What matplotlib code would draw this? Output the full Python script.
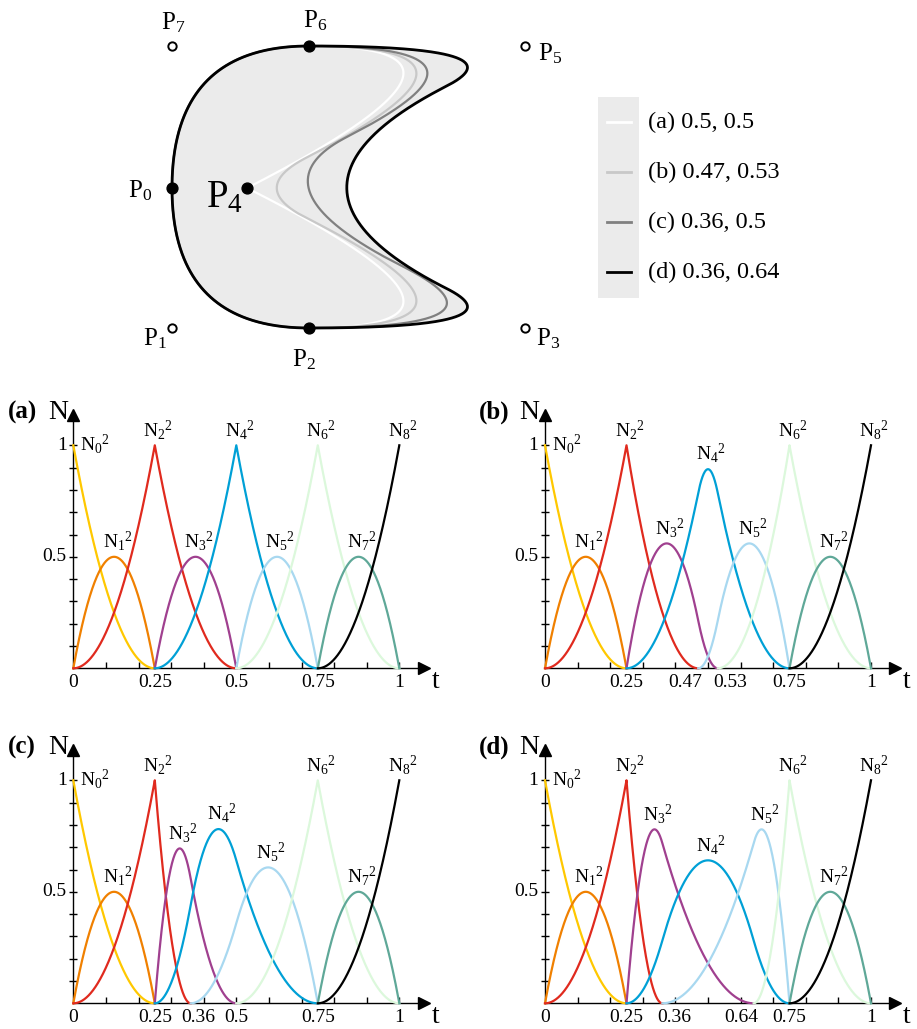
import numpy as np
import matplotlib
matplotlib.use('Agg')
import matplotlib.pyplot as plt
from matplotlib.patches import Rectangle

plt.rcParams['font.family'] = ['Liberation Serif', 'DejaVu Serif']
plt.rcParams['mathtext.fontset'] = 'custom'
plt.rcParams['mathtext.rm'] = 'Liberation Serif'
plt.rcParams['mathtext.it'] = 'Liberation Serif:italic'
plt.rcParams['mathtext.bf'] = 'Liberation Serif:bold'

# ---- data ----
DEGREE = 2
panel_names = ['(a)', '(b)', '(c)', '(d)']
inner_knots = [(0.5, 0.5), (0.47, 0.53), (0.36, 0.5), (0.36, 0.64)]
knots_front = [0, 0, 0, 0.25, 0.25]
knots_back = [0.75, 0.75, 1, 1, 1]

# control polygon of the closed curve (P8 == P0), in drawing units
ctrl_x = [172, 172, 309, 525, 247, 525, 309, 172, 172]
ctrl_y = [188, 328, 328, 328, 188, 46, 46, 46, 188]
ctrl_names = ['P0', 'P1', 'P2', 'P3', 'P4', 'P5', 'P6', 'P7']

legend_labels = ['(a) 0.5, 0.5', '(b) 0.47, 0.53', '(c) 0.36, 0.5', '(d) 0.36, 0.64']
curve_colors = ['#ffffff', '#c8c8c8', '#808080', '#000000']
basis_colors = ['#ffc800', '#f08000', '#e02a1e', '#a0408f', '#00a0d6',
                '#a8d8f0', '#dcf8dc', '#5fa898', '#000000']

# ---- layout ----
W, H = 917, 1029
SX, SY = 326.0, 223.0
panel_origin = [(73.3, 668.3), (545.0, 668.3), (73.3, 1003.3), (545.0, 1003.3)]
tick_nudge = {1: {0.47: -0.04, 0.53: 0.037},
              2: {0.36: 0.022},
              3: {0.36: 0.037, 0.64: -0.038}}
# label offsets (dx, dy, ha) in drawing units, baseline anchored
label_pos = {'P0': (-20, 9, 'right'), 'P1': (-5, 17, 'right'),
             'P2': (-17, 38, 'left'), 'P3': (11, 17, 'left'),
             'P4': (-4, 19, 'right'), 'P5': (13, 14, 'left'),
             'P6': (-6, -19, 'left'), 'P7': (-11, -17, 'left')}


def basis(knots, i, p, t):
    if p == 0:
        lo, hi = knots[i], knots[i + 1]
        res = ((t >= lo) & (t < hi)).astype(float)
        if lo < hi and hi == knots[-1]:
            res[t == hi] = 1.0
        return res
    out = np.zeros_like(t)
    d1 = knots[i + p] - knots[i]
    if d1 > 0:
        out += (t - knots[i]) / d1 * basis(knots, i, p - 1, t)
    d2 = knots[i + p + 1] - knots[i + 1]
    if d2 > 0:
        out += (knots[i + p + 1] - t) / d2 * basis(knots, i + 1, p - 1, t)
    return out


def sample(lo, hi, knots, n=400):
    t = np.linspace(lo, hi, n)
    extra = [k for k in knots if lo <= k <= hi]
    return np.unique(np.concatenate([t, extra]))


def knot_vector(k):
    return knots_front + list(k) + knots_back


fig = plt.figure(figsize=(W / 100, H / 100), dpi=100)

# ---- top: the curves ----
top_h = 372
axt = fig.add_axes([0, 1 - top_h / H, 1, top_h / H])
axt.set_xlim(0, W)
axt.set_ylim(top_h, 0)
axt.axis('off')

px = np.array(ctrl_x, float)
py = np.array(ctrl_y, float)
curves = []
for k in inner_knots:
    kv = knot_vector(k)
    t = sample(0, 1, kv, 1200)
    cx = np.zeros_like(t)
    cy = np.zeros_like(t)
    for i in range(len(px)):
        b = basis(kv, i, DEGREE, t)
        cx += b * px[i]
        cy += b * py[i]
    curves.append((cx, cy))

axt.fill(curves[3][0], curves[3][1], color='#ebebeb', lw=0, zorder=1)
for (cx, cy), col in zip(curves, curve_colors):
    lw = 2.0 if col == '#000000' else 1.6
    axt.plot(cx, cy, color=col, lw=lw, zorder=2, solid_capstyle='round')

for i, name in enumerate(ctrl_names):
    if i % 2 == 0:
        axt.plot(px[i], py[i], 'o', ms=7.8, color='black', zorder=4)
    else:
        axt.plot(px[i], py[i], 'o', ms=6, mfc='white', mec='black', mew=1.4, zorder=4)
    dx, dy, ha = label_pos[name]
    fs = 28 if name == 'P4' else 18
    axt.text(px[i] + dx, py[i] + dy, r'$\mathrm{P}_{%s}$' % name[1:], fontsize=fs,
             ha=ha, va='baseline', zorder=5)

# legend
axt.add_patch(Rectangle((598, 97), 41, 201, facecolor='#ebebeb', edgecolor='none', zorder=1))
for j, (lab, col) in enumerate(zip(legend_labels, curve_colors)):
    y = 122 + j * 50
    axt.plot([607, 631], [y, y], color=col, lw=2.0, zorder=2)
    axt.text(648, y, lab, fontsize=17.5, va='center', ha='left')

# ---- basis function panels ----
x0, x1 = -0.2, 1.2
y0, y1 = -0.15, 1.3
for p, (name, k) in enumerate(zip(panel_names, inner_knots)):
    ox, oy = panel_origin[p]
    left = ox + x0 * SX
    ax = fig.add_axes([left / W, 1 - (oy - y0 * SY) / H, (x1 - x0) * SX / W, (y1 - y0) * SY / H])
    ax.set_xlim(x0, x1)
    ax.set_ylim(y0, y1)
    ax.patch.set_alpha(0)
    for s in ['top', 'right']:
        ax.spines[s].set_visible(False)
    ax.spines['left'].set_position(('data', 0))
    ax.spines['bottom'].set_position(('data', 0))
    ax.spines['left'].set_bounds(0, 1.13)
    ax.spines['bottom'].set_bounds(0, 1.07)
    for s in ['left', 'bottom']:
        ax.spines[s].set_linewidth(1.0)
    ax.set_xticks(np.arange(1, 11) / 10)
    ax.set_yticks(np.arange(1, 11) / 10)
    ax.set_xticklabels([])
    ax.set_yticklabels([])
    ax.tick_params(axis='x', direction='in', length=4, width=1.0)
    ax.tick_params(axis='y', direction='inout', length=6, width=1.0)
    ax.plot([1.075], [0], marker='>', ms=9, color='black', clip_on=False)
    ax.plot([0], [1.135], marker='^', ms=9, color='black', clip_on=False)

    kv = knot_vector(k)
    for i in range(len(kv) - DEGREE - 1):
        lo, hi = kv[i], kv[i + DEGREE + 1]
        t = sample(lo, hi, kv)
        b = basis(kv, i, DEGREE, t)
        ax.plot(t, b, color=basis_colors[i], lw=1.6, clip_on=False, zorder=3)
        j = np.argmax(b)
        lab = r'$\mathrm{N}_{%d}{}^{2}$' % i
        if i == 0:
            ax.text(0.02, 0.975, lab, fontsize=14, ha='left', va='baseline')
        else:
            ax.text(t[j] + 0.01, b[j] + 0.042, lab, fontsize=14, ha='center', va='baseline')

    # knot labels on the t axis
    for v in sorted(set(kv)):
        pos = v + tick_nudge.get(p, {}).get(v, 0)
        ax.text(pos, -0.083, f'{v:g}', fontsize=14, ha='center', va='baseline')
    ax.text(-0.02, 1.0, '1', fontsize=14, ha='right', va='center')
    ax.text(-0.02, 0.5, '0.5', fontsize=14, ha='right', va='center')
    ax.text(-0.157, 1.12, name, fontsize=18, fontweight='bold', ha='center', va='baseline')
    ax.text(-0.047, 1.12, 'N', fontsize=20, ha='center', va='baseline')
    ax.text(1.11, -0.09, 't', fontsize=20, ha='center', va='baseline')

fig.savefig('out.png', dpi=100)
